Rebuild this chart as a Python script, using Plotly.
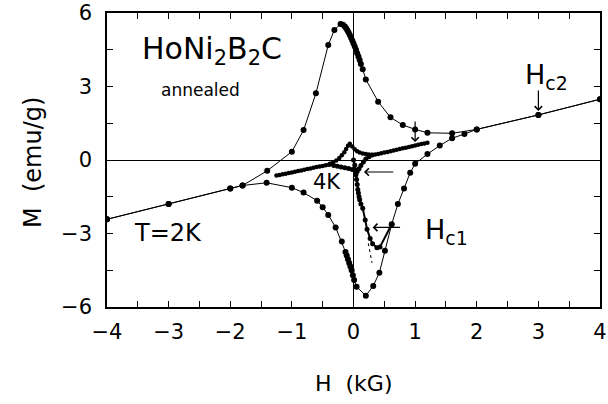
import plotly.graph_objects as go

# ---- data ----
# 2K main loop, field decreasing (upper branch)
H2_up = [4.0, 3.0, 2.0, 1.6, 1.2, 1.0, 0.8, 0.6, 0.4, 0.2, 0.15, 0.12, 0.10, 0.08, 0.06,
         0.04, 0.02, 0.0, -0.02, -0.04, -0.06, -0.08, -0.10, -0.12, -0.14, -0.17, -0.21,
         -0.31, -0.41, -0.61, -0.81, -1.0, -1.4, -1.8, -2.0, -3.0, -4.0]
M2_up = [2.48, 1.84, 1.25, 1.09, 1.11, 1.25, 1.43, 1.74, 2.38, 3.29, 3.70, 3.92, 4.08, 4.22, 4.36,
         4.50, 4.63, 4.76, 4.88, 4.99, 5.10, 5.20, 5.30, 5.38, 5.45, 5.52, 5.55,
         5.31, 4.69, 2.72, 1.22, 0.34, -0.44, -1.04, -1.16, -1.80, -2.42]
# 2K main loop, field increasing (lower branch)
H2_dn = [-4.0, -3.0, -2.0, -1.8, -1.41, -1.0, -0.81, -0.59, -0.5, -0.41, -0.29, -0.19, -0.13,
         -0.11, -0.09, -0.07, -0.05, -0.03, -0.01, 0.01, 0.05, 0.2, 0.32, 0.42, 0.51, 0.62,
         0.72, 0.82, 0.92, 1.0, 1.2, 1.4, 1.6, 1.8, 2.0, 3.0, 4.0]
M2_dn = [-2.42, -1.80, -1.16, -1.04, -0.93, -1.13, -1.33, -1.66, -1.93, -2.24, -2.75, -3.33, -3.75,
         -3.90, -4.05, -4.20, -4.35, -4.50, -4.70, -4.90, -5.17, -5.54, -5.14, -4.60, -3.70, -2.62,
         -1.80, -1.16, -0.52, -0.15, 0.24, 0.59, 0.89, 1.06, 1.25, 1.84, 2.48]
# 2K virgin curve
H_virgin = [0.0, 0.02, 0.03, 0.04, 0.05, 0.06, 0.07, 0.08, 0.09, 0.10, 0.12, 0.15, 0.19, 0.22,
            0.27, 0.31, 0.38, 0.43, 0.62]
M_virgin = [0.0, -0.2, -0.4, -0.6, -0.8, -1.0, -1.2, -1.35, -1.5, -1.62, -1.8, -1.97, -2.45, -2.83,
            -3.2, -3.42, -3.58, -3.55, -2.62]
# extrapolation of the initial slope (dotted)
H_extra = [0.24, 0.30]
M_extra = [-3.4, -4.2]
# 4K loop, field decreasing
H4_dec = [1.20, 1.15, 1.10, 1.05, 1.00, 0.95, 0.90, 0.85, 0.80, 0.75, 0.70, 0.65, 0.60, 0.55,
          0.50, 0.45, 0.40, 0.35, 0.30, 0.25, 0.20, 0.15, 0.10, 0.06, 0.02, -0.02, -0.06,
          -0.09, -0.12, -0.15, -0.19, -0.23, -0.28, -0.33, -0.38, -0.40, -0.45, -0.50, -0.55,
          -0.60, -0.65, -0.70, -0.75, -0.80, -0.85, -0.90, -0.95, -1.00, -1.05, -1.10, -1.15,
          -1.20, -1.25]
M4_dec = [0.70, 0.67, 0.65, 0.62, 0.59, 0.56, 0.53, 0.50, 0.48, 0.45, 0.42, 0.39, 0.36, 0.33,
          0.31, 0.28, 0.25, 0.22, 0.20, 0.22, 0.24, 0.27, 0.31, 0.36, 0.44, 0.55, 0.66,
          0.58, 0.45, 0.32, 0.19, 0.08, -0.02, -0.10, -0.16, -0.19, -0.21, -0.24, -0.27,
          -0.29, -0.32, -0.35, -0.37, -0.40, -0.43, -0.45, -0.48, -0.51, -0.53, -0.56, -0.58,
          -0.61, -0.63]
# 4K loop, field increasing (lower arc near zero)
H4_inc = [-0.38, -0.32, -0.26, -0.20, -0.14, -0.08, -0.02, 0.03, 0.06, 0.09, 0.12, 0.16, 0.20,
          0.25, 0.30]
M4_inc = [-0.16, -0.22, -0.26, -0.29, -0.32, -0.35, -0.39, -0.44, -0.47, -0.36, -0.22, -0.08, 0.04,
          0.13, 0.20]

x_tickvals = [-4, -3, -2, -1, 0, 1, 2, 3, 4]
x_ticktext = ["\u22124", "\u22123", "\u22122", "\u22121", "0", "1", "2", "3", "4"]
y_tickvals = [-6, -3, 0, 3, 6]
y_ticktext = ["\u22126", "\u22123", "0", "3", "6"]

FONT = "DejaVu Sans"
BLACK = "black"

fig = go.Figure()

fig.add_trace(go.Scatter(x=H2_up, y=M2_up, mode="lines+markers",
                         line=dict(color=BLACK, width=1), marker=dict(color=BLACK, size=6)))
fig.add_trace(go.Scatter(x=H2_dn, y=M2_dn, mode="lines+markers",
                         line=dict(color=BLACK, width=1), marker=dict(color=BLACK, size=6)))
fig.add_trace(go.Scatter(x=H_virgin, y=M_virgin, mode="lines+markers",
                         line=dict(color=BLACK, width=2), marker=dict(color=BLACK, size=5)))
fig.add_trace(go.Scatter(x=H_extra, y=M_extra, mode="lines",
                         line=dict(color=BLACK, width=1, dash="dot")))
fig.add_trace(go.Scatter(x=H4_dec, y=M4_dec, mode="lines+markers",
                         line=dict(color=BLACK, width=1), marker=dict(color=BLACK, size=4.5)))
fig.add_trace(go.Scatter(x=H4_inc, y=M4_inc, mode="lines+markers",
                         line=dict(color=BLACK, width=2.5), marker=dict(color=BLACK, size=5)))

axis_common = dict(showline=True, linecolor=BLACK, linewidth=1.5, mirror="ticks",
                   ticks="inside", ticklen=6, tickwidth=1, tickcolor=BLACK,
                   showgrid=False, zeroline=True, zerolinecolor=BLACK, zerolinewidth=1,
                   automargin=False,
                   tickfont=dict(family=FONT, size=21, color=BLACK))

fig.update_xaxes(range=[-4, 4], tickmode="array", tickvals=x_tickvals, ticktext=x_ticktext,
                 ticklabelstandoff=5,
                 minor=dict(ticks="inside", dtick=0.5, ticklen=6, tickwidth=1,
                            tickcolor=BLACK, showgrid=False),
                 **axis_common)
fig.update_yaxes(range=[-6, 6], tickmode="array", tickvals=y_tickvals, ticktext=y_ticktext,
                 ticklabelstandoff=9,
                 minor=dict(ticks="inside", dtick=1.5, ticklen=6, tickwidth=1,
                            tickcolor=BLACK, showgrid=False),
                 **axis_common)

annotations = [
    dict(x=-3.47, y=4.45, text="HoNi<sub>2</sub>B<sub>2</sub>C", xanchor="left", yanchor="middle",
         font=dict(family=FONT, size=30)),
    dict(x=-2.49, y=2.86, text="annealed", xanchor="center", yanchor="middle",
         font=dict(family=FONT, size=17)),
    dict(x=-3.6, y=-2.98, text="T=2K", xanchor="left", yanchor="middle",
         font=dict(family=FONT, size=24)),
    dict(x=-0.43, y=-0.9, text="4K", xanchor="center", yanchor="middle",
         font=dict(family=FONT, size=21)),
    dict(x=1.13, y=-2.9, text="H<sub>c1</sub>", xanchor="left", yanchor="middle",
         font=dict(family=FONT, size=27)),
    dict(x=2.75, y=3.4, text="H<sub>c2</sub>", xanchor="left", yanchor="middle",
         font=dict(family=FONT, size=27)),
    dict(x=0.5, y=-0.26, xref="paper", yref="paper", text="H  (kG)", xanchor="center",
         yanchor="middle", font=dict(family=FONT, size=22)),
    dict(x=-0.15, y=0.49, xref="paper", yref="paper", text="M  (emu/g)", xanchor="center",
         yanchor="middle", textangle=-90, font=dict(family=FONT, size=24)),
]
arrows = [
    (3.0, 2.0, 3.0, 2.9),
    (1.0, 0.73, 1.0, 1.63),
    (0.17, -0.49, 0.67, -0.49),
    (0.31, -2.75, 0.78, -2.75),
]
for hx, hy, tx, ty in arrows:
    annotations.append(dict(x=hx, y=hy, ax=tx, ay=ty, axref="x", ayref="y", xref="x", yref="y",
                            text="", showarrow=True, arrowhead=4, arrowsize=1.2,
                            arrowwidth=1.2, arrowcolor=BLACK))
for a in annotations:
    a.setdefault("xref", "x")
    a.setdefault("yref", "y")
    a.setdefault("showarrow", False)
    if "font" in a:
        a["font"]["color"] = BLACK

fig.update_layout(width=608, height=404, margin=dict(l=107, r=8, t=13, b=97),
                  plot_bgcolor="white", paper_bgcolor="white", showlegend=False,
                  annotations=annotations, font=dict(family=FONT, color=BLACK))

fig.write_html("out.html", config={"displayModeBar": False},
               post_script="document.body.style.margin='0px';")
